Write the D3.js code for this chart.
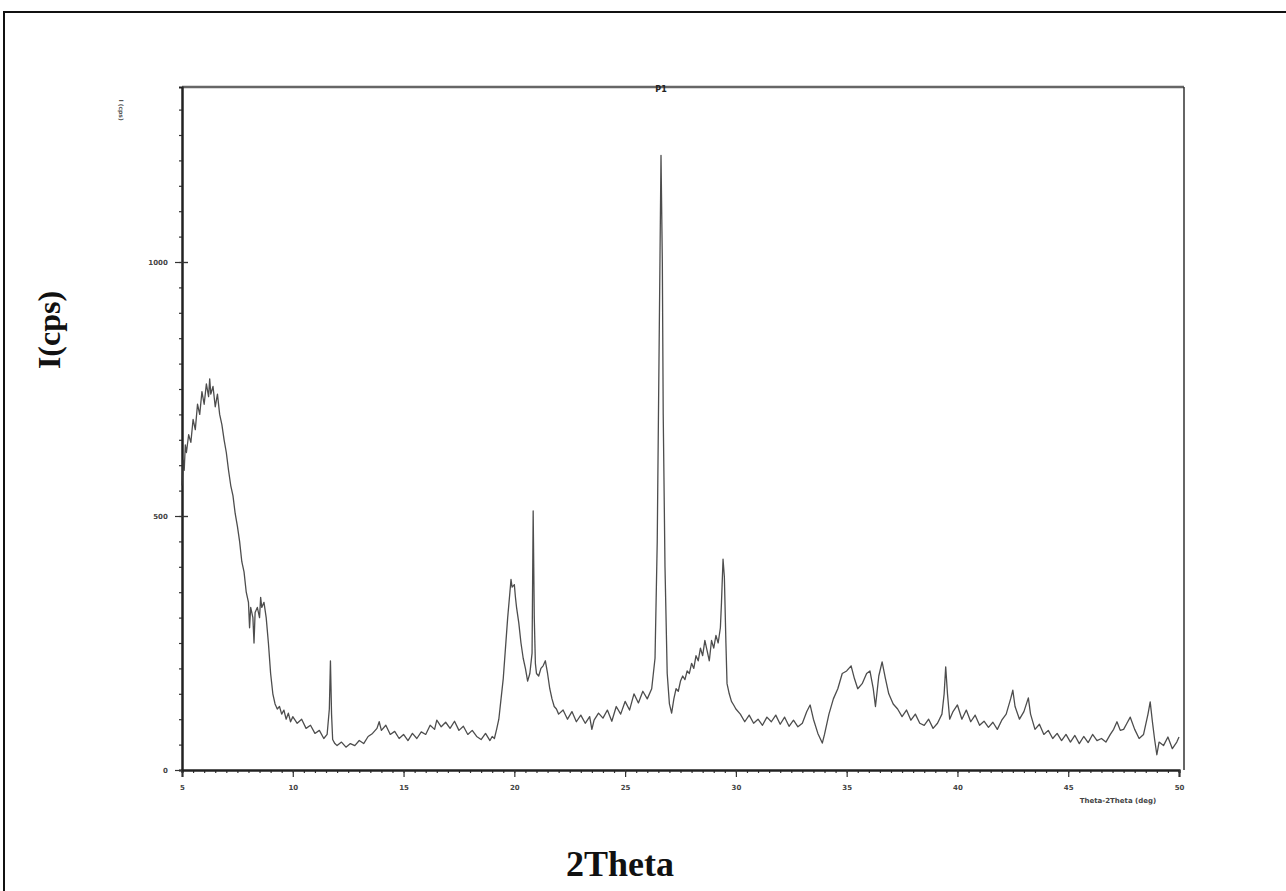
<!DOCTYPE html>
<meta charset="utf-8">
<style>
  body { margin: 0; background: #fff; }
  svg { display: block; }
</style>
<script src="https://cdn.jsdelivr.net/npm/d3@7/dist/d3.min.js"></script>
<body>
</body>
<script>

// XRD pattern (2theta in deg, intensity in cps)
var twoTheta = [
  5.0,5.05,5.1,5.15,5.2,5.3,5.4,5.5,5.6,5.7,5.8,5.9,6.0,6.1,6.2,6.25,6.3,6.4,6.5,6.6,6.7,6.8,6.9,
  7.0,7.1,7.2,7.3,7.4,7.5,7.6,7.7,7.8,7.9,8.0,8.05,8.1,8.2,8.25,8.3,8.4,8.5,8.55,8.6,8.7,8.8,8.9,
  9.0,9.1,9.2,9.3,9.4,9.5,9.6,9.7,9.8,9.9,10.0,10.2,10.4,10.6,10.8,11.0,11.2,11.4,11.55,11.65,11.7,
  11.75,11.8,11.9,12.0,12.2,12.4,12.6,12.8,13.0,13.2,13.4,13.6,13.8,13.9,14.0,14.2,14.4,14.6,14.8,
  15.0,15.2,15.4,15.6,15.8,16.0,16.2,16.4,16.5,16.7,16.9,17.1,17.3,17.5,17.7,17.9,18.1,18.3,18.5,
  18.7,18.9,19.0,19.1,19.2,19.3,19.4,19.5,19.6,19.7,19.8,19.85,19.9,20.0,20.05,20.1,20.2,20.3,20.4,
  20.5,20.6,20.7,20.8,20.85,20.9,20.95,21.0,21.1,21.2,21.3,21.4,21.5,21.6,21.7,21.8,21.9,22.0,22.2,
  22.4,22.6,22.8,23.0,23.2,23.4,23.5,23.6,23.8,24.0,24.2,24.4,24.6,24.8,25.0,25.2,25.4,25.6,25.8,
  26.0,26.2,26.35,26.45,26.55,26.62,26.68,26.72,26.8,26.9,27.0,27.1,27.2,27.3,27.4,27.5,27.6,27.7,
  27.8,27.9,28.0,28.1,28.2,28.3,28.4,28.5,28.6,28.7,28.8,28.9,29.0,29.1,29.2,29.3,29.35,29.42,29.48,
  29.55,29.6,29.7,29.8,29.9,30.0,30.2,30.4,30.6,30.8,31.0,31.2,31.4,31.6,31.8,32.0,32.2,32.4,32.6,
  32.8,33.0,33.2,33.35,33.5,33.7,33.9,34.0,34.2,34.4,34.6,34.8,35.0,35.2,35.35,35.5,35.7,35.9,36.05,
  36.2,36.3,36.45,36.6,36.75,36.9,37.1,37.3,37.5,37.7,37.9,38.1,38.3,38.5,38.7,38.9,39.1,39.3,39.4,
  39.47,39.55,39.65,39.8,40.0,40.2,40.4,40.6,40.8,41.0,41.2,41.4,41.6,41.8,42.0,42.2,42.4,42.5,42.6,
  42.8,43.0,43.2,43.3,43.5,43.7,43.9,44.1,44.3,44.5,44.7,44.9,45.1,45.3,45.5,45.7,45.9,46.1,46.3,
  46.5,46.7,46.9,47.05,47.2,47.35,47.5,47.65,47.8,48.0,48.2,48.4,48.6,48.7,48.8,48.9,49.0,49.1,49.3,
  49.5,49.7,49.9,50.0
];
var intensity = [
  560,610,590,640,625,660,645,690,670,720,700,745,720,760,735,770,740,755,715,740,700,680,650,
  625,590,560,540,505,480,450,410,390,350,330,280,320,300,250,310,320,300,340,320,330,300,250,
  190,150,130,120,125,110,118,100,112,95,105,92,100,82,88,72,78,62,70,120,215,
  110,60,52,48,55,45,52,48,58,52,66,72,82,95,78,88,70,76,62,
  70,58,72,62,75,70,88,80,98,85,94,82,96,78,86,70,78,66,60,
  72,58,66,62,80,100,140,180,240,300,350,375,360,365,340,320,290,250,220,
  200,175,190,230,510,300,210,190,185,200,205,215,190,160,140,125,120,110,118,
  100,115,95,108,92,105,80,98,112,102,118,96,125,110,135,118,150,132,155,
  140,160,220,450,900,1210,1000,700,400,190,130,112,140,160,155,175,185,178,
  195,190,210,200,225,215,240,225,255,235,215,255,240,265,250,280,330,415,380,
  250,170,150,135,128,120,110,95,108,92,100,88,104,95,108,90,104,86,98,
  85,92,115,128,100,72,53,70,110,140,160,190,195,205,180,160,170,190,195,
  160,125,185,213,180,150,130,120,105,118,98,110,92,88,100,82,92,110,150,
  203,150,100,115,128,100,118,95,108,88,96,84,94,80,98,110,140,157,125,
  100,115,142,110,80,90,70,78,62,72,58,70,55,68,52,66,54,70,58,
  62,55,70,80,95,78,80,92,104,80,62,70,110,134,95,60,30,55,48,
  65,42,55,65
];

var xTicksMajor = [5,10,15,20,25,30,35,40,45,50];
var yTicksMajor = [0,500,1000];

const width = 1286, height = 891;

var svg = d3.select("body").append("svg")
  .attr("width", width)
  .attr("height", height);

// outer picture border
svg.append("rect")
  .attr("x", 4).attr("y", 12)
  .attr("width", 1300).attr("height", 900)
  .attr("fill", "none")
  .attr("stroke", "#111")
  .attr("stroke-width", 2);

var xScale = d3.scaleLinear().domain([5,50]).range([182,1179]);
var yScale = d3.scaleLinear().domain([0,1000]).range([770,262]);

var plotTop = 87, plotRight = 1184;

// frame: top and right edges
svg.append("line")
  .attr("x1", xScale(5)).attr("x2", plotRight)
  .attr("y1", plotTop).attr("y2", plotTop)
  .attr("stroke", "#666").attr("stroke-width", 2.5);
svg.append("line")
  .attr("x1", plotRight).attr("x2", plotRight)
  .attr("y1", plotTop).attr("y2", yScale(0))
  .attr("stroke", "#333").attr("stroke-width", 1.5);

// x axis: minor every 0.5 deg, labels on the 5's
var xMinor = d3.range(5, 50.01, 0.5);
var gx = svg.append("g").attr("transform", `translate(0,${yScale(0)})`);
gx.call(d3.axisBottom(xScale).tickValues(xMinor).tickSize(3).tickFormat(""));
gx.append("g").call(d3.axisBottom(xScale).tickValues(xTicksMajor).tickSize(7).tickFormat(d3.format("d")));
gx.selectAll("path").attr("stroke", "#222").attr("stroke-width", 2);
gx.selectAll("line").attr("stroke", "#333").attr("stroke-width", 1.2);
gx.selectAll("text")
  .attr("font-family", "DejaVu Sans").attr("font-size", 7).attr("font-weight", "bold")
  .attr("fill", "#444").attr("dy", "1.4em");

// y axis: minor every 50 cps
var yMinor = d3.range(0, 1350, 50);
var yFull = yScale.copy().domain([0, yScale.invert(plotTop)]).range([770, plotTop]);
var gy = svg.append("g").attr("transform", `translate(${xScale(5)},0)`);
gy.call(d3.axisLeft(yFull).tickValues(yMinor).tickSize(3).tickFormat(""));
gy.append("g").call(d3.axisLeft(yFull).tickValues(yTicksMajor).tickSizeInner(7).tickSizeOuter(0).tickFormat(d3.format("d")));
gy.selectAll("path").attr("stroke", "#222").attr("stroke-width", 2);
gy.selectAll("line").attr("stroke", "#333").attr("stroke-width", 1.2);
gy.selectAll("text")
  .attr("font-family", "DejaVu Sans").attr("font-size", 7).attr("font-weight", "bold")
  .attr("fill", "#444").attr("dx", "-0.6em");
// major ticks cross the axis
gy.selectAll(".tick").filter(d => yTicksMajor.indexOf(d) >= 0 && d > 0)
  .append("line").attr("x1", 0).attr("x2", 6).attr("stroke", "#333").attr("stroke-width", 1.2);

// pattern
var pts = twoTheta.map((t,i) => [t, intensity[i]]);
svg.append("path")
  .datum(pts)
  .attr("fill", "none")
  .attr("stroke", "#3a3a3a")
  .attr("stroke-width", 1.3)
  .attr("stroke-opacity", 0.9)
  .attr("stroke-linejoin", "round")
  .attr("d", d3.line().x(d => xScale(d[0])).y(d => yScale(d[1])));

// small instrument texts
svg.append("text")
  .attr("transform", "translate(119,110) rotate(90)")
  .attr("text-anchor", "middle")
  .attr("font-family", "DejaVu Sans").attr("font-size", 6).attr("font-weight", "bold")
  .attr("fill", "#555")
  .text("I (cps)");

svg.append("text")
  .attr("x", 661).attr("y", 92)
  .attr("text-anchor", "middle")
  .attr("font-family", "DejaVu Sans").attr("font-size", 8).attr("font-weight", "bold")
  .attr("fill", "#222")
  .text("P1");

svg.append("text")
  .attr("x", 1118).attr("y", 803)
  .attr("text-anchor", "middle")
  .attr("font-family", "DejaVu Sans").attr("font-size", 7).attr("font-weight", "bold")
  .attr("fill", "#444")
  .text("Theta-2Theta (deg)");

// big labels
svg.append("text")
  .attr("transform", "translate(60,330) rotate(-90)")
  .attr("text-anchor", "middle")
  .attr("font-family", "Liberation Serif").attr("font-size", 32).attr("font-weight", "bold")
  .attr("fill", "#111")
  .text("I(cps)");

svg.append("text")
  .attr("x", 620).attr("y", 876)
  .attr("text-anchor", "middle")
  .attr("font-family", "Liberation Serif").attr("font-size", 36).attr("font-weight", "bold")
  .attr("fill", "#111")
  .text("2Theta");

</script>
